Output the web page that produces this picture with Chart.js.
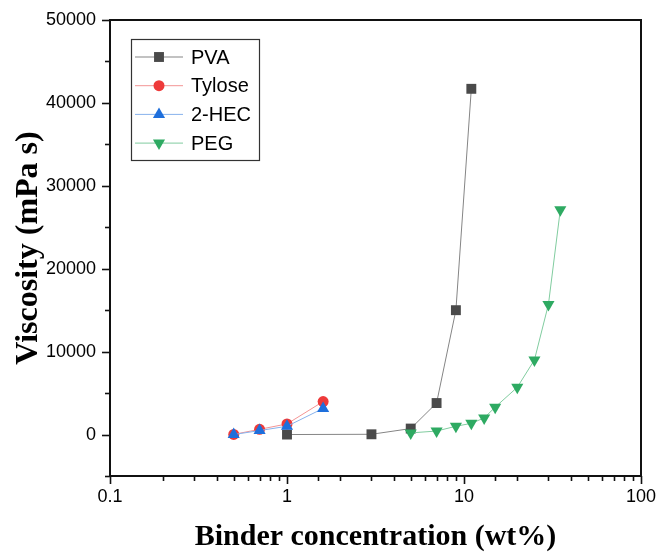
<!DOCTYPE html>
<html>
<head>
<meta charset="utf-8">
<script src="https://cdn.jsdelivr.net/npm/chart.js@4/dist/chart.umd.min.js"></script>
<style>
  html, body { margin: 0; padding: 0; background: #fff; }
  #wrap { width: 657px; height: 555px; }
</style>
</head>
<body>
<div id="wrap"><canvas id="c" width="657" height="555"></canvas></div>
<script>
// Binder concentrations (wt%) and measured viscosities (mPa s)
const pvaConc     = [1, 3, 5, 7, 9, 11];
const pvaVisc     = [0, 30, 720, 3800, 15000, 41700];
const tyloseConc  = [0.5, 0.7, 1, 1.6];
const tyloseVisc  = [20, 630, 1280, 3980];
const hecConc     = [0.5, 0.7, 1, 1.6];
const hecVisc     = [0, 480, 1000, 3150];
const pegConc     = [5, 7, 9, 11, 13, 15, 20, 25, 30, 35];
const pegVisc     = [200, 420, 1000, 1350, 2000, 3300, 5700, 9000, 15700, 27100];

const seriesNames = ['PVA', 'Tylose', '2-HEC', 'PEG'];
const xTickValues = [0.1, 1, 10, 100];
const yTickValues = [0, 10000, 20000, 30000, 40000, 50000];

const pts = (xs, ys) => xs.map((x, i) => ({ x, y: ys[i] }));

const styles = [
  { marker: '#4a4a4a', line: '#858585', pointStyle: 'rect',     radius: 7,   rotation: 0 },
  { marker: '#ee3a3a', line: '#f39494', pointStyle: 'circle',   radius: 5.5, rotation: 0 },
  { marker: '#1e6fdc', line: '#88b2ec', pointStyle: 'triangle', radius: 7,   rotation: 0 },
  { marker: '#2eaa62', line: '#80cc9f', pointStyle: 'triangle', radius: 7,   rotation: 180 }
];
const seriesData = [pts(pvaConc, pvaVisc), pts(tyloseConc, tyloseVisc), pts(hecConc, hecVisc), pts(pegConc, pegVisc)];

const datasets = seriesNames.map((name, i) => ({
  label: name,
  data: seriesData[i],
  borderColor: styles[i].line,
  borderWidth: 1,
  backgroundColor: styles[i].marker,
  pointBackgroundColor: styles[i].marker,
  pointBorderColor: styles[i].marker,
  pointBorderWidth: 0,
  pointStyle: styles[i].pointStyle,
  pointRadius: styles[i].radius,
  pointRotation: styles[i].rotation,
  tension: 0,
  order: seriesNames.length - i
}));

const isDecade = v => { const l = Math.log10(v); return Math.abs(l - Math.round(l)) < 1e-9; };

// Frame around the plot area plus outward tick marks on the left and bottom axes
const framePlugin = {
  id: 'frame',
  afterDatasetsDraw(chart) {
    const { ctx, chartArea: a, scales } = chart;
    ctx.save();
    ctx.strokeStyle = '#111';
    ctx.lineWidth = 1.6;
    const xs = scales.x, ys = scales.y;
    xs.ticks.forEach(t => {
      const px = Math.round(xs.getPixelForValue(t.value)) + 0.5;
      const len = isDecade(t.value) ? 8 : 5;
      ctx.beginPath(); ctx.moveTo(px, a.bottom); ctx.lineTo(px, a.bottom + len); ctx.stroke();
    });
    ys.ticks.forEach(t => {
      const py = Math.round(ys.getPixelForValue(t.value)) + 0.5;
      if (py < a.top - 1) return;
      const len = (t.value % 10000 === 0) ? 8 : 5;
      ctx.beginPath(); ctx.moveTo(a.left, py); ctx.lineTo(a.left - len, py); ctx.stroke();
    });
    ctx.lineWidth = 2;
    ctx.strokeRect(a.left, a.top, a.right - a.left, a.bottom - a.top);
    ctx.restore();
  }
};

// Boxed legend inside the plot area
const legendPlugin = {
  id: 'boxLegend',
  afterDraw(chart) {
    const { ctx } = chart;
    const box = { x: 131.5, y: 39.5, w: 128, h: 121 };
    ctx.save();
    ctx.fillStyle = '#fff';
    ctx.fillRect(box.x, box.y, box.w, box.h);
    ctx.strokeStyle = '#333';
    ctx.lineWidth = 1.2;
    ctx.strokeRect(box.x, box.y, box.w, box.h);
    ctx.font = '20px "Liberation Sans", Arial, sans-serif';
    ctx.textBaseline = 'middle';
    ctx.textAlign = 'left';
    chart.data.datasets.forEach((ds, i) => {
      const y = 57 + i * 28.7;
      ctx.strokeStyle = ds.borderColor;
      ctx.lineWidth = 1;
      ctx.beginPath(); ctx.moveTo(135, y); ctx.lineTo(183, y); ctx.stroke();
      ctx.fillStyle = ds.pointBackgroundColor;
      Chart.helpers.drawPoint(ctx, {
        pointStyle: ds.pointStyle, radius: ds.pointRadius, rotation: ds.pointRotation, borderWidth: 0
      }, 159, y);
      ctx.fillStyle = '#000';
      ctx.fillText(ds.label, 191, y + 1);
    });
    ctx.restore();
  }
};

new Chart(document.getElementById('c'), {
  type: 'line',
  data: { datasets },
  options: {
    responsive: false,
    animation: false,
    layout: { padding: { top: 20, right: 16, bottom: 0, left: 0 } },
    plugins: { legend: { display: false }, tooltip: { enabled: false } },
    scales: {
      x: {
        type: 'logarithmic',
        min: 0.1,
        max: 100,
        grid: { display: false, drawTicks: false },
        border: { display: false },
        ticks: {
          autoSkip: false,
          maxRotation: 0,
          padding: 10,
          color: '#000',
          font: { family: '"Liberation Sans", Arial, sans-serif', size: 18 },
          callback: (v) => xTickValues.includes(Number(v)) ? String(v) : ''
        },
        title: {
          display: true,
          text: 'Binder concentration (wt%)',
          color: '#000',
          font: { family: '"Liberation Serif", "Times New Roman", serif', size: 30, weight: 'bold' },
          padding: { top: 4, bottom: 0 }
        },
        afterFit(s) { s.height = 79; s.paddingLeft = 0; s.paddingRight = 0; }
      },
      y: {
        type: 'linear',
        min: -5000,
        max: 50000,
        grid: { display: false, drawTicks: false },
        border: { display: false },
        ticks: {
          stepSize: 5000,
          autoSkip: false,
          padding: 14,
          color: '#000',
          font: { family: '"Liberation Sans", Arial, sans-serif', size: 18 },
          callback: (v) => yTickValues.includes(v) ? String(v) : ''
        },
        title: {
          display: true,
          text: 'Viscosity (mPa s)',
          color: '#000',
          font: { family: '"Liberation Serif", "Times New Roman", serif', size: 32, weight: 'bold' },
          padding: { top: 10, bottom: 0 }
        },
        afterFit(s) { s.width = 110; s.paddingTop = 0; s.paddingBottom = 0; }
      }
    }
  },
  plugins: [framePlugin, legendPlugin]
});
</script>
</body>
</html>
